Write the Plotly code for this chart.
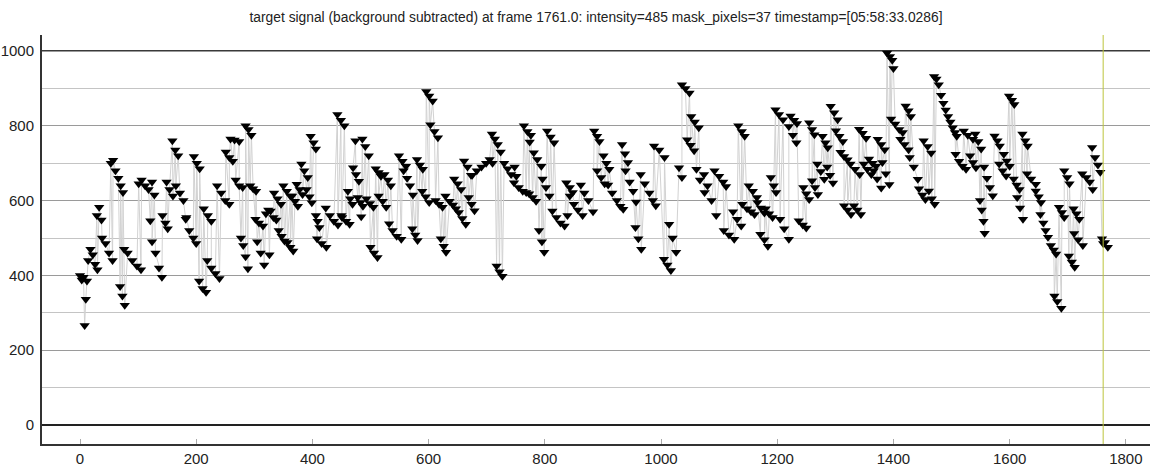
import plotly.graph_objects as go

# ---- data (frame, intensity) ----
frames_a = [0,3,6,8,10,12, 14,18,22,26,30, 29,33,37, 38,44,50,56, 53,57,61,66,70,74, 69,73,77,
            76,82,90,98,105, 101,106,112,118,121,124,128, 124,130,136,141, 142,147,151, 149,154,160,
            159,164,169, 165,172,178,183, 182,188,195,200, 196,201,206, 205,211,217, 213,220,226,
            219,226,233,240, 236,243,250,257, 251,257,263, 259,266,274, 268,274,280, 277,281,285,289,
            285,290,295, 293,298,303, 302,308,315, 305,311,317, 320,324]
values_a = [400,388,395,266,336,385, 440,470,455,430,415, 560,582,548, 500,485,460,440, 700,708,680,660,640,622, 370,345,320,
            470,460,440,425,415, 645,655,640,630,546,650,615, 490,460,420,395, 560,540,525, 650,630,612,
            760,735,720, 640,620,600,555, 550,520,500,485, 718,700,685, 385,365,355, 578,560,545,
            440,420,405,392, 640,620,600,590, 730,715,705, 765,762,758, 655,640,635, 500,480,450,418,
            800,790,775, 640,632,625, 550,540,532, 490,460,428, 565,575]

frames_b = [326,328,333,338, 334,340,346, 342,347,352, 350,356,362, 357,362,367, 365,370,375, 373,378,383,
            381,386,392, 390,395,399, 397,402,406, 406,409,412, 408,416,424, 423,430,437,444,450,
            443,449,455, 451,458,464, 461,465,469, 470,474,475,480, 478,483,484,487, 486,491,497,
            493,499,505, 500,506,512, 509,514,518, 514,521,527, 524,530,535, 532,538,545,553,
            549,555,561, 557,563,568,573, 572,577,581, 580,585,590, 589,595,601, 596,601,607,
            603,610,616, 612,618,624, 621,626,630, 629,636,642,647, 644,650,656, 652,658,664,
            661,667,673, 669,674,679, 675,683,691,699,705]
values_b = [455,572,555,548, 620,605,590, 520,505,492, 640,625,612, 488,475,465, 612,598,585, 644,630,616,
            698,680,662, 630,610,594, 772,755,738, 560,545,528, 498,485,475, 580,560,545,535,560,
            830,815,800, 555,545,537, 625,605,590, 688,760,670,652, 608,595,557,585, 765,745,720,
            605,592,582, 475,460,448, 685,675,665, 612,598,582, 670,655,640, 538,520,505,497,
            720,705,692, 680,660,640,615, 525,508,493, 710,695,684, 625,610,595, 892,880,866,
            803,785,768, 600,590,582, 498,478,462, 612,598,588,578, 658,645,630, 568,552,537,
            706,690,668, 608,590,573, 668,680,690,700,710]

frames_c = [709,710,714,719, 717,722,727, 724,730,736,742,748,751, 747,755,762,768, 764,770,774,776,
            773,779,785, 781,787,794, 790,795,799, 796,802,808, 804,810,816, 813,820,827,834,839,
            837,843,848, 843,850,857,865, 862,868,875,883, 885,890,894, 890,897,903, 901,906,911,
            909,916,924,930,935, 933,938,943, 939,946,952,957, 956,961,966, 965,972,980,986,991,
            988,997,1006, 1005,1011,1017, 1014,1020,1026, 1031,1036, 1036,1042,1049, 1045,1051,1057,
            1052,1058,1065]
values_c = [778,700,765,750, 425,410,398, 730,700,685,670,690,665, 648,635,625,622, 800,785,757,775,
            618,608,598, 728,710,692, 520,490,462, 658,635,612, 786,770,755, 572,555,540,532,560,
            648,635,622, 612,590,575,560, 642,620,600,570, 786,772,758, 680,662,645, 720,700,684,
            642,620,600,585,577, 750,725,702, 680,650,625,596, 528,498,470, 670,645,620,600,586,
            746,735,715, 443,428,413, 537,500,462, 688,662, 910,900,888, 763,748,733,
            825,810,795]

frames_d = [1061,1067,1075, 1074,1080,1087,1095, 1092,1100,1107,1112, 1108,1117,1126, 1124,1131,1138,
            1133,1139,1144, 1140,1148,1155,1161, 1151,1158,1165, 1166,1172,1178, 1171,1178,1184,
            1180,1186,1192, 1189,1194,1198, 1197,1203,1210, 1205,1212,1220, 1220,1223,1227,1229,1233,1234,
            1237,1244,1250, 1245,1250,1255, 1255,1260,1264, 1260,1265,1270, 1269,1275,1281,
            1278,1283,1287, 1286,1291,1296, 1292,1298,1304, 1301,1307,1313, 1309,1315,1321,
            1315,1321,1327, 1326,1334,1342, 1332,1338,1344, 1341,1347,1353, 1349,1355,1362,
            1358,1364,1370, 1366,1372,1379, 1373,1379,1385, 1381,1387,1393,
            1389,1394,1398,1400, 1396,1403,1410,1416, 1412,1419,1426, 1421,1426,1430]
values_d = [684,655,622, 670,640,600,560, 680,665,650,638, 520,508,497, 570,550,532,
            800,785,772, 590,578,570,563, 640,625,608, 595,580,567, 510,495,478,
            578,565,555, 662,640,622, 843,830,816, 550,525,497, 798,826,775,815,755,806,
            546,535,527, 635,618,603, 808,790,776, 653,635,616, 698,678,657,
            772,755,741, 690,668,647, 852,835,816, 787,772,758, 729,718,709,
            586,575,563, 698,684,670, 586,575,563, 791,780,767, 698,684,670,
            711,700,692, 680,658,634, 764,750,736, 702,672,643,
            995,985,975,953, 818,805,790,782, 764,750,736, 853,840,825]

frames_e = [1428,1435,1442, 1444,1450,1455, 1452,1459,1465, 1461,1466,1471,
            1470,1474,1478,1482,1486,1490,1494,1498,1502,1506,1509,
            1507,1513,1519,1525, 1521,1528,1537, 1532,1537,1542, 1541,1546,1551,
            1549,1552,1555,1557, 1556,1561,1566,1571, 1574,1579,1583, 1582,1588,1594,
            1590,1595,1600, 1599,1604,1608, 1607,1612,1617, 1613,1618,1623, 1622,1627,1631,
            1630,1637,1645, 1645,1650,1654, 1653,1658,1662,1666, 1671,1676,1680, 1677,1682,1689,
            1685,1690,1694, 1694,1699,1703, 1702,1707,1712, 1710,1711,1715,1718,1720,1726,
            1725,1732,1738,1743, 1742,1747,1752,1756, 1759,1761,1764,1769]
values_e = [715,690,657, 632,615,603, 760,745,727, 626,605,590,
            932,925,910,882,860,842,825,810,795,782,772,
            724,705,692,684, 786,775,764, 720,702,688, 778,758,738,
            600,575,545,513, 690,660,635,613, 773,760,746, 698,680,666,
            724,706,692, 880,868,857, 658,642,630, 608,580,550, 778,760,746,
            672,658,644, 626,610,595, 563,540,520,502, 480,468,457, 345,330,312,
            582,568,555, 680,662,645, 452,436,422, 578,512,565,495,550,480,
            672,662,650,630, 742,715,695,676, 498,485,488,475]

current_frame = 1761
title_text = ("target signal (background subtracted) at frame 1761.0: intensity=485 "
              "mask_pixels=37 timestamp=[05:58:33.0286]")

frames = frames_a + frames_b + frames_c + frames_d + frames_e
values = values_a + values_b + values_c + values_d + values_e
pairs = sorted(zip(frames, values), key=lambda p: p[0])
xs = [p[0] for p in pairs]
ys = [p[1] for p in pairs]

fig = go.Figure()
fig.add_trace(go.Scatter(
    x=xs, y=ys, mode="lines+markers",
    line=dict(color="#d2d2d2", width=1),
    marker=dict(symbol="triangle-down", size=9, color="black",
                line=dict(width=0)),
    showlegend=False, hoverinfo="skip"))

# dark reference line at 1000 and the current-frame marker line
fig.add_shape(type="line", xref="paper", x0=0, x1=1, yref="y", y0=1000, y1=1000,
              line=dict(color="#3a3a3a", width=2.2), layer="below")
fig.add_shape(type="line", xref="x", x0=current_frame, x1=current_frame,
              yref="paper", y0=0, y1=1, line=dict(color="#bcc43c", width=1))

fig.update_layout(
    width=1152, height=468,
    margin=dict(l=42, r=2, t=35, b=24),
    paper_bgcolor="white", plot_bgcolor="white",
    font=dict(family="Liberation Sans, Arial, sans-serif", color="#222"),
    title=dict(text=title_text, xref="paper", x=0.5, xanchor="center",
               y=1 - 17 / 468, yanchor="middle",
               font=dict(size=13.8, color="#222")),
)
fig.update_xaxes(
    range=[-65.4, 1841.6], showgrid=False, zeroline=False, automargin=False,
    tickvals=[0, 200, 400, 600, 800, 1000, 1200, 1400, 1600, 1800],
    ticks="inside", ticklen=5, tickcolor="#aaaaaa",
    showline=True, linecolor="#333333", linewidth=2,
    tickfont=dict(size=15, color="#222"))
fig.update_yaxes(
    range=[-50.8, 1042.8], automargin=False,
    tickvals=[0, 200, 400, 600, 800, 1000],
    showgrid=True, gridcolor="#9a9a9a", gridwidth=1.3,
    minor=dict(dtick=100, tick0=0, showgrid=True, gridcolor="#c4c4c4", gridwidth=1),
    zeroline=True, zerolinecolor="#222222", zerolinewidth=2,
    showline=True, linecolor="#333333", linewidth=2,
    ticks="", ticklabelstandoff=3,
    tickfont=dict(size=15, color="#222"))

fig.write_html("out.html", config={"displayModeBar": False},
               post_script="document.body.style.margin='0';document.body.style.overflow='hidden';")
